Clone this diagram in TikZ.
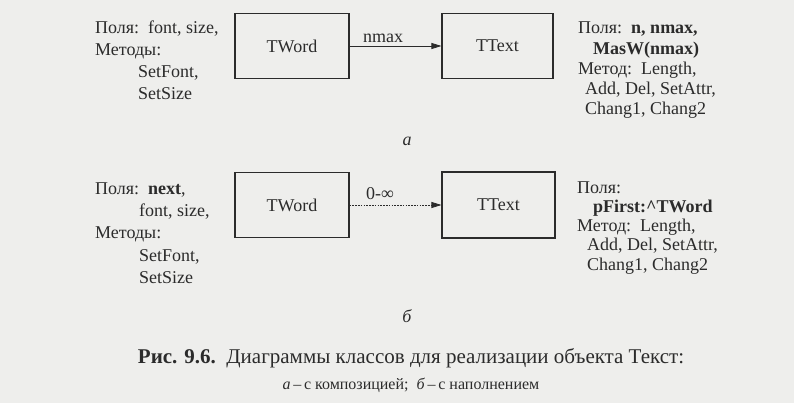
\documentclass[tikz,border=0pt]{standalone}
\usepackage{fontspec}
\setmainfont{Liberation Serif}
\usetikzlibrary{arrows.meta}
\definecolor{ink}{HTML}{2B2B2B}
\definecolor{paper}{HTML}{EEEEEC}
\tikzset{
  cls/.style={draw=ink, line width=1.1pt, minimum width=114pt, minimum height=65pt, inner sep=0pt, font=\fontsize{18}{22}\selectfont, text=ink},
  txt/.style={anchor=base west, inner sep=0pt, font=\fontsize{18}{22}\selectfont, text=ink},
  lbl/.style={inner sep=0pt, font=\fontsize{18}{22}\selectfont, text=ink},
  arr/.style={draw=ink, line width=0.8pt, -{Triangle[length=10pt,width=6pt]}},
  darr/.style={arr, dash pattern=on 1.6pt off 1.2pt},
}
\begin{document}
\begin{tikzpicture}[x=1pt,y=-1pt]
\fill[paper] (0,0) rectangle (794,403);
\useasboundingbox (0,0) rectangle (794,403);
% ---- (a) ----
\node[cls] (w1) at (292,46) {TWord};
\node[cls, minimum width=111pt] (t1) at (497.5,46) {TText};
\draw[arr] (w1.east) -- (t1.west);
\node[lbl, anchor=base] (n1) at (383,43) {nmax};
\node[txt] (a1) at (95,34) {Поля:\ \ font, size,};
\node[txt] (a2) at (95,56) {Методы:};
\node[txt] (a3) at (138,78) {SetFont,};
\node[txt] (a4) at (138,100) {SetSize};
\node[txt] (b1) at (578,34) {Поля:\ \ \textbf{n, nmax,}};
\node[txt] (b2) at (593,55) {\textbf{MasW(nmax)}};
\node[txt] (b3) at (578,75) {Метод:\ \ Length,};
\node[txt] (b4) at (585,95) {Add, Del, SetAttr,};
\node[txt] (b5) at (585,115) {Chang1, Chang2};
\node[lbl] (la) at (407,141) {\itshape а};
% ---- (b) ----
\node[cls] (w2) at (292,205) {TWord};
\node[cls, minimum width=113pt, minimum height=66pt] (t2) at (498.5,205) {TText};
\draw[darr] (w2.east) -- (t2.west);
\node[lbl, anchor=base] (n2) at (380,200) {0-∞};
\node[txt] (c1) at (95,195) {Поля:\ \ \textbf{next},};
\node[txt] (c2) at (139,217) {font, size,};
\node[txt] (c3) at (95,239) {Методы:};
\node[txt] (c4) at (139,261) {SetFont,};
\node[txt] (c5) at (139,283) {SetSize};
\node[txt] (d1) at (577,194) {Поля:};
\node[txt] (d2) at (593,213) {\textbf{pFirst:\textasciicircum TWord}};
\node[txt] (d3) at (577,232) {Метод:\ \ Length,};
\node[txt] (d4) at (587,251) {Add, Del, SetAttr,};
\node[txt] (d5) at (587,270) {Chang1, Chang2};
\node[lbl] (lb) at (407,316) {\itshape б};
% ---- caption ----
\node[lbl, anchor=base, font=\fontsize{21}{24}\selectfont] (cap) at (411,363) {\textbf{Рис. 9.6.}\ \ Диаграммы классов для реализации объекта Текст:};
\node[lbl, anchor=base, font=\fontsize{16}{18}\selectfont] (sub) at (411,389) {\textit{а}\,–\,с композицией;\ \ \textit{б}\,–\,с наполнением};
\end{tikzpicture}
\end{document}
